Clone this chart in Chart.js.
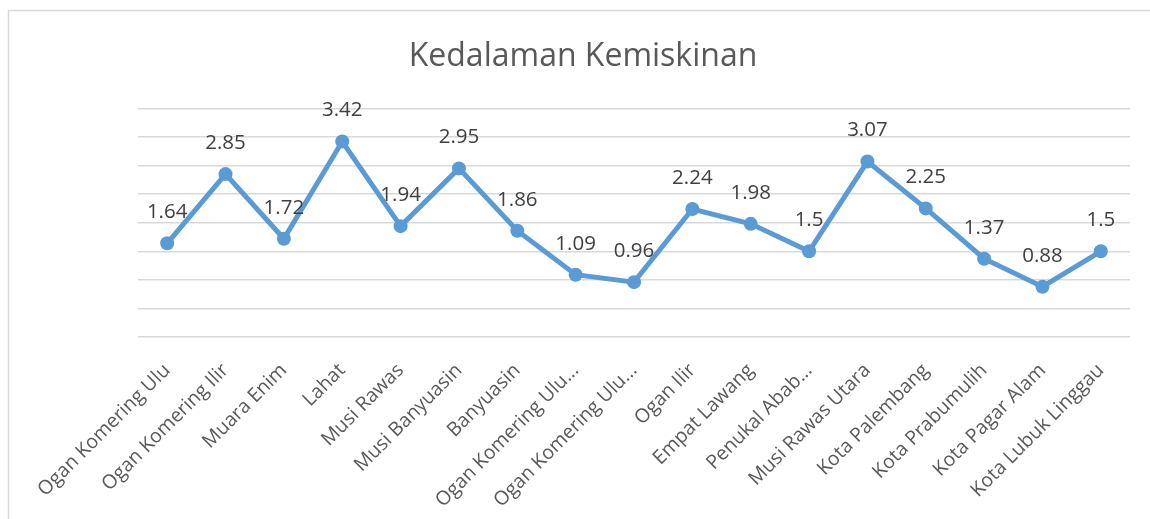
<!DOCTYPE html>
<html>
<head>
<meta charset="utf-8">
<script src="https://cdn.jsdelivr.net/npm/chart.js"></script>
<style>
  html, body { margin: 0; padding: 0; background: #fff; }
  #wrap { width: 1150px; height: 519px; }
</style>
</head>
<body>
<div id="wrap"><canvas id="chart" width="1150" height="519"></canvas></div>
<script>
// Data
const categories = [
  'Ogan Komering Ulu', 'Ogan Komering Ilir', 'Muara Enim', 'Lahat', 'Musi Rawas',
  'Musi Banyuasin', 'Banyuasin', 'Ogan Komering Ulu Selatan', 'Ogan Komering Ulu Timur',
  'Ogan Ilir', 'Empat Lawang', 'Penukal Abab Lematang Ilir', 'Musi Rawas Utara',
  'Kota Palembang', 'Kota Prabumulih', 'Kota Pagar Alam', 'Kota Lubuk Linggau'
];
const kedalaman = [1.64, 2.85, 1.72, 3.42, 1.94, 2.95, 1.86, 1.09, 0.96, 2.24, 1.98, 1.5, 3.07, 2.25, 1.37, 0.88, 1.5];
const yMin = 0, yMax = 4, yStep = 0.5;

const FONT = '"Open Sans", "Noto Sans", sans-serif';

// potong label panjang seperti Excel
function shortLabel(s) {
  if (s.length <= 18) return s;
  const cut = s.slice(0, 18);
  return cut.slice(0, cut.lastIndexOf(' ')) + '...';
}

// bingkai grafik
const frame = {
  id: 'frame',
  beforeDraw(chart) {
    const c = chart.ctx;
    c.save();
    c.strokeStyle = '#d9d9d9';
    c.lineWidth = 1.5;
    c.strokeRect(8.5, 10.5, 1200, 600);
    c.restore();
  }
};

// label nilai di atas titik
const valueLabels = {
  id: 'valueLabels',
  afterDatasetsDraw(chart) {
    const c = chart.ctx;
    const meta = chart.getDatasetMeta(0);
    c.save();
    c.font = '20.5px ' + FONT;
    c.fillStyle = '#404040';
    c.textAlign = 'center';
    c.textBaseline = 'middle';
    meta.data.forEach((pt, i) => {
      c.fillText(String(kedalaman[i]), pt.x, pt.y - 31);
    });
    c.restore();
  }
};

new Chart(document.getElementById('chart'), {
  type: 'line',
  data: {
    labels: categories,
    datasets: [{
      data: kedalaman,
      borderColor: '#5b9bd5',
      backgroundColor: '#5b9bd5',
      borderWidth: 5,
      pointRadius: 7,
      pointHoverRadius: 7,
      pointBorderWidth: 0,
      tension: 0
    }]
  },
  options: {
    responsive: false,
    animation: false,
    layout: { padding: { left: 16, right: 0, top: 0, bottom: 0 } },
    plugins: {
      legend: { display: false },
      tooltip: { enabled: false },
      title: {
        display: true,
        text: 'Kedalaman Kemiskinan',
        color: '#595959',
        font: { family: FONT, size: 32, weight: 'normal' },
        padding: { top: 38, bottom: 32 }
      }
    },
    scales: {
      x: {
        offset: true,
        grid: { display: false },
        border: { display: false },
        ticks: {
          color: '#595959',
          font: { family: FONT, size: 19.5 },
          maxRotation: 45,
          minRotation: 45,
          autoSkip: false,
          padding: 14,
          callback: function(v, i) { return shortLabel(categories[i]); }
        },
        afterFit(scale) { scale.height = 182; }
      },
      y: {
        min: yMin,
        max: yMax,
        ticks: { display: false, stepSize: yStep },
        grid: { color: '#d9d9d9', lineWidth: 1.5, drawTicks: false },
        border: { display: false },
        afterFit(scale) { scale.width = 122; }
      },
      y2: {
        position: 'right',
        display: true,
        grid: { display: false },
        border: { display: false },
        ticks: { display: false },
        afterFit(scale) { scale.width = 20; }
      }
    }
  },
  plugins: [frame, valueLabels]
});
</script>
</body>
</html>
